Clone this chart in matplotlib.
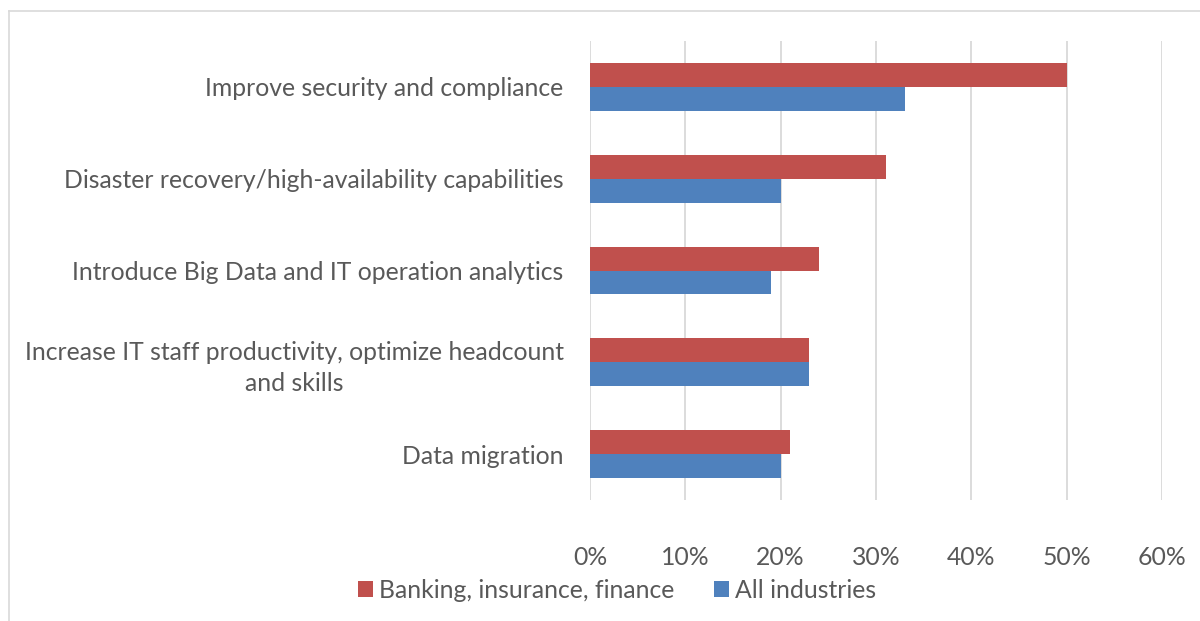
import matplotlib
matplotlib.use("Agg")
import matplotlib.pyplot as plt
from matplotlib.lines import Line2D
import numpy as np

categories = [
    "Improve security and compliance",
    "Disaster recovery/high-availability capabilities",
    "Introduce Big Data and IT operation analytics",
    "Increase IT staff productivity, optimize headcount\nand skills",
    "Data migration",
]
banking = [50, 31, 24, 23, 21]
all_ind = [33, 20, 19, 23, 20]
series_names = ["Banking, insurance, finance", "All industries"]

red = "#C0504D"
blue = "#4F81BD"
text_col = "#595959"
grid_col = "#D9D9D9"

plt.rcParams["font.family"] = ["Lato", "DejaVu Sans"]

fig = plt.figure(figsize=(12, 6.21), dpi=100)
ax = fig.add_axes([590 / 1200, 1 - 500 / 621, 572 / 1200, 459 / 621])

y = np.arange(len(categories))
h = 0.26
ax.barh(y - h / 2, banking, height=h, color=red, label=series_names[0], zorder=3)
ax.barh(y + h / 2, all_ind, height=h, color=blue, label=series_names[1], zorder=3)

ax.set_ylim(len(categories) - 0.5, -0.5)
ax.set_xlim(0, 60)
ax.set_xticks(range(0, 61, 10))
ax.set_xticklabels([f"{v}%" for v in range(0, 61, 10)])
ax.set_yticks(y)
ax.set_yticklabels(categories, multialignment="center", linespacing=1.4)

ax.grid(axis="x", color=grid_col, linewidth=1.3, zorder=0)
for s in ax.spines.values():
    s.set_visible(False)
ax.tick_params(axis="both", length=0, labelsize=17.8, colors=text_col)
ax.tick_params(axis="x", pad=33)
ax.tick_params(axis="y", pad=19)

leg = fig.legend(loc="center", bbox_to_anchor=(0.514, 1 - 590 / 621), ncol=2,
                 frameon=False, fontsize=17.8, handlelength=0.6, handleheight=0.6,
                 handletextpad=0.25, columnspacing=1.6)
for t in leg.get_texts():
    t.set_color(text_col)

# chart border (only left and top edges visible)
fig.add_artist(Line2D([9 / 1200, 9 / 1200], [0, 1 - 11 / 621], color=grid_col, linewidth=1.2))
fig.add_artist(Line2D([9 / 1200, 1], [1 - 11 / 621, 1 - 11 / 621], color=grid_col, linewidth=1.2))

fig.savefig("out.png", dpi=100)
